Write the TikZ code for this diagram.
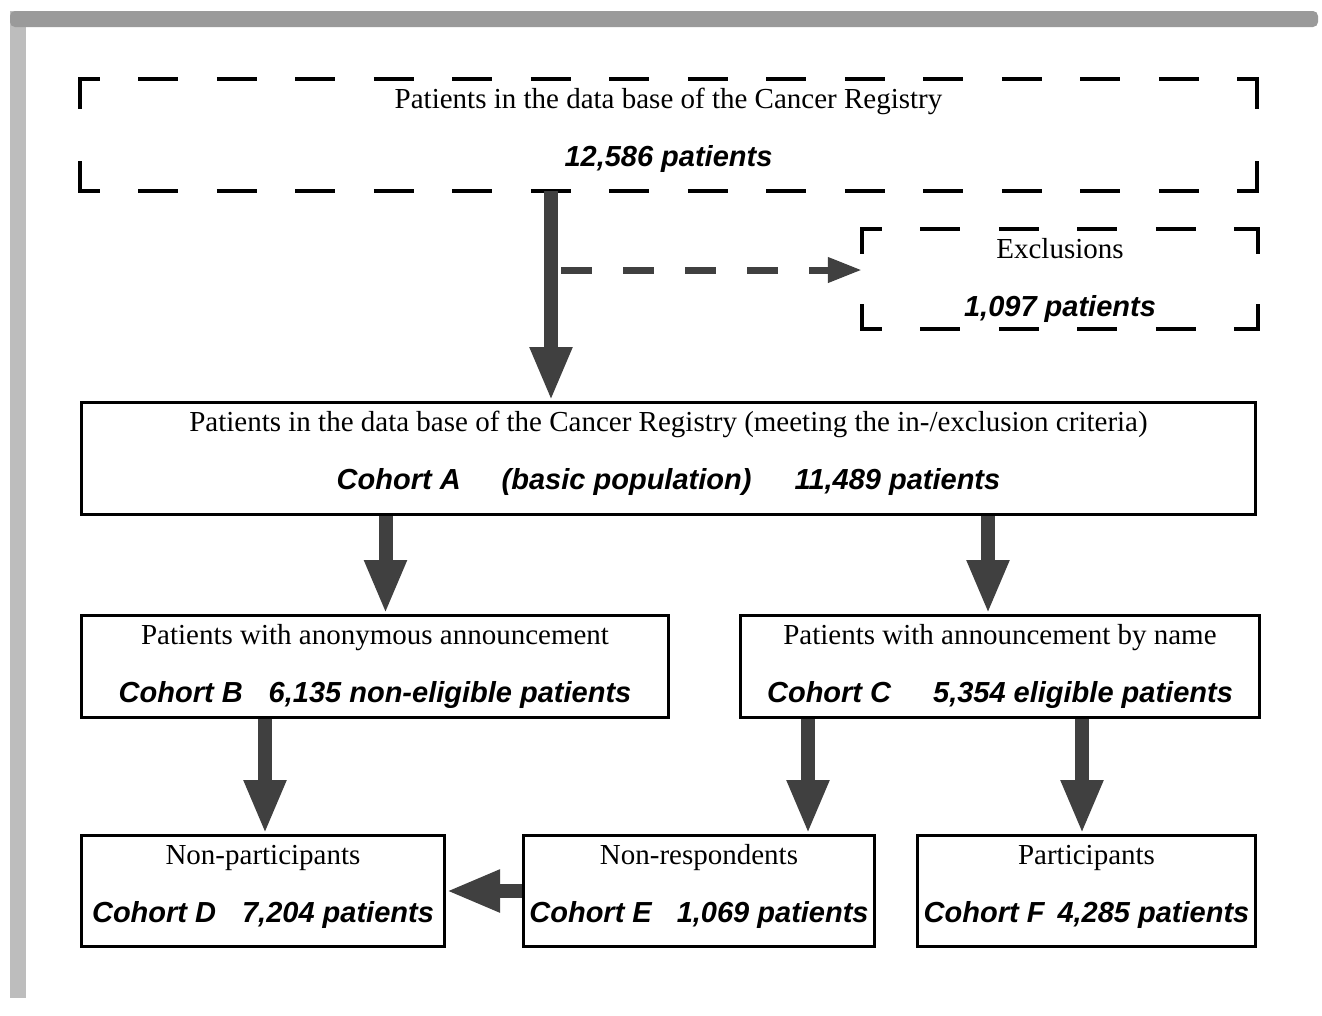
\documentclass[tikz,border=0pt]{standalone}
\usepackage{fontspec}
\setmainfont{Liberation Serif}
\newfontfamily\headsans{Liberation Sans}
\usetikzlibrary{arrows.meta}
\definecolor{arrowgray}{HTML}{404040}
\definecolor{topgray}{HTML}{9A9A9A}
\definecolor{leftgray}{HTML}{BDBDBD}
\newcommand{\boxtext}[4]{\parbox[c][#2pt][t]{#1pt}{\centering\rule{0pt}{29pt}#3\\{\headsans\bfseries\itshape #4}}}
\tikzset{
    cohort/.style = {draw, line width = 3pt, inner sep = 0pt, font = \fontsize{29}{58}\selectfont},
    dashbox/.style = {inner sep = 0pt, font = \fontsize{29}{58}\selectfont},
    hdash/.style = {line width = 3.5pt, dash pattern = on 40pt off 38.5pt, dash phase = 20pt},
    vdash/.style = {line width = 3.5pt, line cap = rect},
    bigarrow/.style = {draw = arrowgray, line width = 14pt, -{Triangle[width = 39pt, length = 54pt]}},
    dasharrow/.style = {draw = arrowgray, line width = 7pt, dash pattern = on 31pt off 31pt, -{Triangle[width = 24pt, length = 34pt]}}
}
\begin{document}
\begin{tikzpicture} [x = 1pt, y = -1pt]
    \fill[white] (0,0) rectangle (1322,1015);
    \useasboundingbox (0,0) rectangle (1322,1015);
    \fill[leftgray] (10,11) rectangle (26,998);
    \fill[topgray, rounded corners = 5pt] (10,11) rectangle (1318,27);
    \node[dashbox] (top) at (668.5,135) {\boxtext{1177}{112}{Patients in the data base of the Cancer Registry}{12,586 patients}};
    \draw[hdash] (top.north west) -- (top.north east);
    \draw[hdash] (top.south west) -- (top.south east);
    \draw[vdash, dash pattern = on 28pt off 56pt] (top.north west) -- (top.south west);
    \draw[vdash, dash pattern = on 28pt off 56pt] (top.north east) -- (top.south east);
    \node[dashbox] (excl) at (1060,279) {\boxtext{396}{100}{Exclusions}{1,097 patients}};
    \draw[hdash] (excl.north west) -- (excl.north east);
    \draw[hdash] (excl.south west) -- (excl.south east);
    \draw[vdash, dash pattern = on 23pt off 54pt] (excl.north west) -- (excl.south west);
    \draw[vdash, dash pattern = on 23pt off 54pt] (excl.north east) -- (excl.south east);
    \node[cohort] (A) at (668.5,458.5) {\boxtext{1174}{112}{Patients in the data base of the Cancer Registry (meeting the in-/exclusion criteria)}{Cohort A\hspace{41pt}(basic population)\hspace{43pt}11,489 patients}};
    \node[cohort] (B) at (375,666.5) {\boxtext{587}{102}{Patients with anonymous announcement}{Cohort B\hspace{26pt}6,135 non-eligible patients}};
    \node[cohort] (C) at (1000,666.5) {\boxtext{519}{102}{Patients with announcement by name}{Cohort C\hspace{42pt}5,354 eligible patients}};
    \node[cohort] (D) at (263,891) {\boxtext{363}{111}{Non-participants}{Cohort D\hspace{26pt}7,204 patients}};
    \node[cohort] (E) at (699,891) {\boxtext{351}{111}{Non-respondents}{Cohort E\hspace{25pt}1,069 patients}};
    \node[cohort] (F) at (1086.5,891) {\boxtext{338}{111}{Participants}{Cohort F\hspace{13pt}4,285 patients}};
    \coordinate (split) at (551,270);
    \draw[bigarrow] (top.south -| split) -- (A.north -| split);
    \draw[dasharrow] ([xshift = 10pt] split) -- (split -| excl.west);
    \draw[bigarrow] (A.south -| 385.5,0) -- (B.north -| 385.5,0);
    \draw[bigarrow] (A.south -| 988,0) -- (C.north -| 988,0);
    \draw[bigarrow] (B.south -| 265,0) -- (D.north -| 265,0);
    \draw[bigarrow] (C.south -| 808,0) -- (E.north -| 808,0);
    \draw[bigarrow] (C.south -| 1082,0) -- (F.north -| 1082,0);
    \draw[bigarrow] (E.west) -- (D.east);
\end{tikzpicture}
\end{document}
